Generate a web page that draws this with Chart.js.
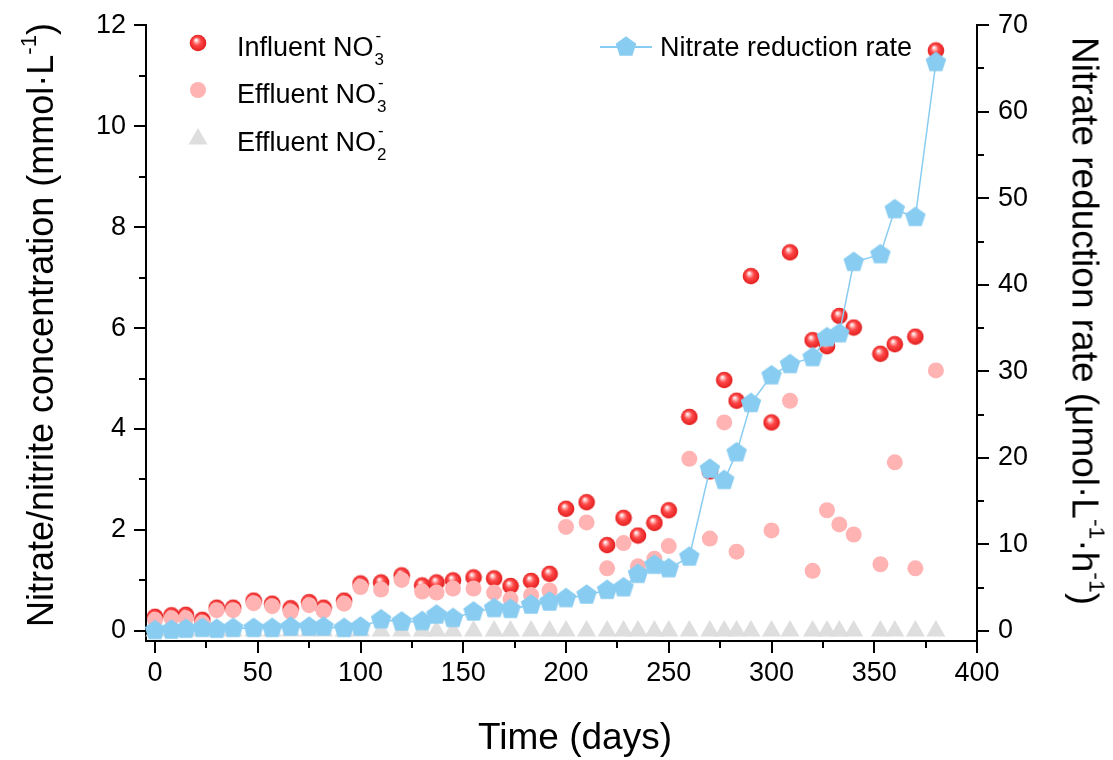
<!DOCTYPE html>
<html>
<head>
<meta charset="utf-8">
<script src="https://cdn.jsdelivr.net/npm/chart.js@4.4.0/dist/chart.umd.min.js"></script>
<style>
  html, body { margin: 0; padding: 0; background: #fff; }
  #wrap { position: relative; width: 1113px; height: 760px; font-family: "Liberation Sans", Arial, sans-serif; color: #000; }
  #chart { position: absolute; left: 0; top: 0; }
  .lab { position: absolute; white-space: nowrap; line-height: 1; }
  .leg { font-size: 27px; }
  .ion { display: inline-block; position: relative; width: 13px; height: 27px; vertical-align: baseline; }
  .ion .up { position: absolute; left: 2px; top: -2px; font-size: 17px; }
  .ion .dn { position: absolute; left: 1px; top: 22px; font-size: 17px; }
  .ttl sup { font-size: 0.62em; vertical-align: 0.75em; line-height: 0; }
  .mk { position: absolute; }
</style>
</head>
<body>
<div id="wrap">
  <canvas id="chart" width="1113" height="760"></canvas>

  <div class="lab leg" style="left:237px; top:29px">Influent NO<span class="ion"><span class="up">-</span><span class="dn">3</span></span></div>
  <div class="lab leg" style="left:237px; top:76px">Effluent NO<span class="ion"><span class="up">-</span><span class="dn">3</span></span></div>
  <div class="lab leg" style="left:237px; top:124px">Effluent NO<span class="ion"><span class="up">-</span><span class="dn">2</span></span></div>
  <div class="lab leg" style="left:660px; top:34px">Nitrate reduction rate</div>

  <div class="lab ttl" style="left:41px; top:325px; font-size:36px; transform:translate(-50%,-50%) rotate(-90deg)">Nitrate/nitrite concentration (mmol·L<sup>-1</sup>)</div>
  <div class="lab ttl" style="left:1085px; top:321px; font-size:37px; transform:translate(-50%,-50%) rotate(90deg)">Nitrate reduction rate (μmol·L<sup>-1</sup>·h<sup>-1</sup>)</div>
  <div class="lab ttl" style="left:575px; top:736px; font-size:37px; transform:translate(-50%,-50%)">Time (days)</div>
</div>

<script>
// ── Data ──────────────────────────────────────────────────
const days = [0, 8, 15, 23, 30, 38, 48, 57, 66, 75, 82, 92, 100, 110, 120, 130, 137, 145, 155, 165,
              173, 183, 192, 200, 210, 220, 228, 235, 243, 250, 260, 270, 277, 283, 290, 300, 309, 320,
              327, 333, 340, 353, 360, 370, 380];

// mmol/L, left axis
const influentNO3 = [0.28, 0.31, 0.32, 0.22, 0.46, 0.46, 0.60, 0.54, 0.45, 0.57, 0.46, 0.60, 0.94, 0.96, 1.10, 0.90, 0.96, 1.00, 1.06, 1.04,
                     0.89, 0.99, 1.13, 2.42, 2.55, 1.70, 2.24, 1.89, 2.14, 2.39, 4.24, 3.16, 4.97, 4.56, 7.03, 4.13, 7.50, 5.76,
                     5.64, 6.24, 6.01, 5.49, 5.68, 5.83, 11.50];
const effluentNO3 = [0.22, 0.25, 0.25, 0.16, 0.41, 0.41, 0.55, 0.49, 0.38, 0.51, 0.40, 0.54, 0.87, 0.82, 1.01, 0.78, 0.76, 0.84, 0.84, 0.76,
                     0.63, 0.71, 0.80, 2.06, 2.15, 1.24, 1.74, 1.28, 1.43, 1.68, 3.41, 1.83, 4.13, 1.57, 4.50, 1.99, 4.56, 1.19,
                     2.39, 2.11, 1.91, 1.32, 3.34, 1.24, 5.16];
const effluentNO2 = [0, 0, 0, 0, 0, 0, 0, 0, 0, 0, 0, 0, 0, 0, 0, 0, 0, 0, 0, 0,
                     0, 0, 0, 0, 0, 0, 0, 0, 0, 0, 0, 0, 0, 0, 0, 0, 0, 0,
                     0, 0, 0, 0, 0, 0, 0];

// µmol/(L·h), right axis
const reductionRate = [0.05, 0.1, 0.2, 0.3, 0.2, 0.3, 0.3, 0.3, 0.45, 0.45, 0.45, 0.3, 0.45, 1.3, 1.05, 1.1, 1.85, 1.45, 2.2, 2.6,
                       2.5, 3.0, 3.35, 3.75, 4.15, 4.7, 5.0, 6.55, 7.6, 7.2, 8.55, 18.7, 17.4, 20.6, 26.3, 29.5, 30.8, 31.6,
                       33.9, 34.35, 42.6, 43.5, 48.7, 47.8, 65.7];

// axis ticks
const xTicks  = [0, 50, 100, 150, 200, 250, 300, 350, 400];
const xMinor  = [25, 75, 125, 175, 225, 275, 325, 375];
const yTicks  = [0, 2, 4, 6, 8, 10, 12];
const yMinor  = [1, 3, 5, 7, 9, 11];
const yRTicks = [0, 10, 20, 30, 40, 50, 60, 70];
const yRMinor = [5, 15, 25, 35, 45, 55, 65];

// ── Styling ──────────────────────────────────────────────
const FONT  = '"Liberation Sans", Arial, sans-serif';
const BLUE  = '#88ccf1';
const PINK  = '#ffb3b3';
const GREY  = '#dedede';

function makeSphere() {
  const c = document.createElement('canvas');
  c.width = c.height = 18;
  const g = c.getContext('2d');
  const grad = g.createRadialGradient(7, 6, 0.4, 9, 9, 8.6);
  grad.addColorStop(0, '#ffffff');
  grad.addColorStop(0.18, '#ffb2b2');
  grad.addColorStop(0.45, '#ff4848');
  grad.addColorStop(1, '#e01a1a');
  g.fillStyle = grad;
  g.beginPath();
  g.arc(9, 9, 8.3, 0, Math.PI * 2);
  g.fill();
  return c;
}

function makePentagon() {
  const r = 10.8, s = 24;
  const c = document.createElement('canvas');
  c.width = c.height = s;
  const g = c.getContext('2d');
  g.fillStyle = BLUE;
  g.beginPath();
  for (let i = 0; i < 5; i++) {
    const a = -Math.PI / 2 + i * 2 * Math.PI / 5;
    g.lineTo(s / 2 + r * Math.cos(a), s / 2 + r * Math.sin(a));
  }
  g.closePath();
  g.fill();
  return c;
}

function makeDot(color, r) {
  const c = document.createElement('canvas');
  c.width = c.height = 2 * r + 2;
  const g = c.getContext('2d');
  g.fillStyle = color;
  g.beginPath();
  g.arc(r + 1, r + 1, r, 0, Math.PI * 2);
  g.fill();
  return c;
}

function makeTriangle(color, r) {
  const c = document.createElement('canvas');
  c.width = c.height = 2 * r + 2;
  const g = c.getContext('2d');
  const cx = r + 1, cy = r + 1;
  g.fillStyle = color;
  g.beginPath();
  for (let i = 0; i < 3; i++) {
    const a = -Math.PI / 2 + i * 2 * Math.PI / 3;
    g.lineTo(cx + r * Math.cos(a), cy + r * Math.sin(a));
  }
  g.closePath();
  g.fill();
  return c;
}

const pts = arr => days.map((d, i) => ({ x: d, y: arr[i] }));

// ── Minor tick marks ─────────────────────────────────────
const minorTicks = {
  id: 'minorTicks',
  afterDraw(chart) {
    const { ctx, scales: { x, y, yR } } = chart;
    ctx.save();
    ctx.strokeStyle = '#000';
    ctx.lineWidth = 2;
    ctx.beginPath();
    xMinor.forEach(v => {
      const px = Math.round(x.getPixelForValue(v));
      ctx.moveTo(px, x.top);
      ctx.lineTo(px, x.top + 7);
    });
    yMinor.forEach(v => {
      const py = Math.round(y.getPixelForValue(v));
      ctx.moveTo(y.right, py);
      ctx.lineTo(y.right - 7, py);
    });
    yRMinor.forEach(v => {
      const py = Math.round(yR.getPixelForValue(v));
      ctx.moveTo(yR.left, py);
      ctx.lineTo(yR.left + 7, py);
    });
    ctx.stroke();
    ctx.restore();
  }
};

const axisGrid = { display: true, drawOnChartArea: false, drawTicks: true, tickLength: 12, color: '#000', lineWidth: 2 };
const axisBorder = { display: true, color: '#000', width: 2 };
const tickFont = { family: FONT, size: 27 };

new Chart(document.getElementById('chart'), {
  type: 'scatter',
  data: {
    datasets: [
      {
        label: 'Nitrate reduction rate',
        data: pts(reductionRate),
        yAxisID: 'yR',
        showLine: true,
        borderColor: BLUE,
        borderWidth: 1.5,
        pointStyle: makePentagon(),
        pointRadius: 10,
        clip: false,
        order: 0,
      },
      {
        label: 'Effluent NO3-',
        data: pts(effluentNO3),
        yAxisID: 'y',
        pointStyle: 'circle',
        pointRadius: 8,
        backgroundColor: PINK,
        borderWidth: 0,
        clip: false,
        order: 1,
      },
      {
        label: 'Effluent NO2-',
        data: pts(effluentNO2),
        yAxisID: 'y',
        pointStyle: 'triangle',
        pointRadius: 11,
        backgroundColor: GREY,
        borderWidth: 0,
        clip: false,
        order: 2,
      },
      {
        label: 'Influent NO3-',
        data: pts(influentNO3),
        yAxisID: 'y',
        pointStyle: makeSphere(),
        pointRadius: 9,
        clip: false,
        order: 3,
      },
    ],
  },
  options: {
    responsive: false,
    animation: false,
    events: [],
    layout: { padding: { top: 23, left: 0, right: 0, bottom: 0 } },
    plugins: { legend: { display: false }, tooltip: { enabled: false } },
    scales: {
      x: {
        type: 'linear', min: -4.4, max: 400,
        afterFit: s => { s.height = 119; },
        afterBuildTicks: s => { s.ticks = xTicks.map(v => ({ value: v })); },
        grid: axisGrid, border: axisBorder,
        ticks: { color: '#000', font: tickFont, padding: 4, maxRotation: 0 },
      },
      y: {
        position: 'left', min: -0.2, max: 12,
        afterFit: s => { s.width = 146; },
        afterBuildTicks: s => { s.ticks = yTicks.map(v => ({ value: v })); },
        grid: axisGrid, border: axisBorder,
        ticks: { color: '#000', font: tickFont, padding: 8 },
      },
      yR: {
        position: 'right', min: -70 * 0.2 / 12, max: 70,
        afterFit: s => { s.width = 136; },
        afterBuildTicks: s => { s.ticks = yRTicks.map(v => ({ value: v })); },
        grid: axisGrid, border: axisBorder,
        ticks: { color: '#000', font: tickFont, padding: 9 },
      },
    },
  },
  plugins: [minorTicks],
});

// ── Legend symbols ───────────────────────────────────────
const wrap = document.getElementById('wrap');
function place(el, cx, cy) {
  el.className = 'mk';
  el.style.left = (cx - el.width / 2) + 'px';
  el.style.top = (cy - el.height / 2) + 'px';
  wrap.appendChild(el);
}
place(makeSphere(), 198, 43);
place(makeDot(PINK, 8), 198, 90);
place(makeTriangle(GREY, 11), 198, 139);

const legLine = document.createElement('div');
legLine.className = 'mk';
Object.assign(legLine.style, { left: '600px', top: '46px', width: '52px', height: '2px', background: BLUE });
wrap.appendChild(legLine);
place(makePentagon(), 626, 47);
</script>
</body>
</html>
